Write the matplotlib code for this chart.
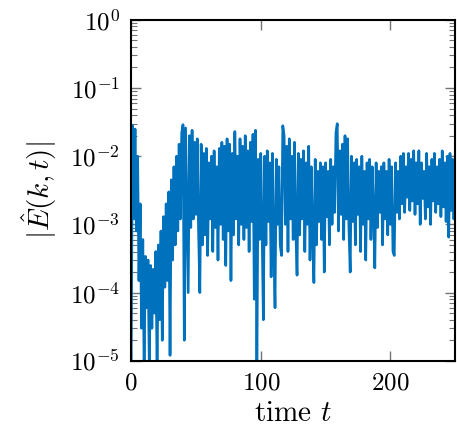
import numpy as np
import matplotlib
matplotlib.use('Agg')
from matplotlib import pyplot as plt
from matplotlib.ticker import LogLocator, NullFormatter

plt.rcParams['font.family'] = 'serif'
plt.rcParams['font.serif'] = ['cmr10']
plt.rcParams['mathtext.fontset'] = 'cm'
plt.rcParams['axes.formatter.use_mathtext'] = True

# |E(k,t)|, one value per time unit
E_0_49 = [8e-6, 2.8e-2, 1.2e-3, 2.5e-2, 8e-4, 1.0e-2, 1.5e-4, 2.0e-3, 3e-5, 6e-4,
          8e-6, 3.4e-4, 6e-5, 3e-4, 8e-6, 2.5e-4, 3e-5, 2.2e-4, 5e-5, 4e-4,
          8e-6, 5e-4, 4e-5, 8e-4, 2e-5, 1.3e-3, 1.2e-4, 2.0e-3, 1.5e-4, 3.0e-3,
          1.2e-5, 4.5e-3, 3e-4, 7e-3, 5e-4, 1.0e-2, 8e-4, 1.5e-2, 1.2e-3, 2.2e-2,
          2.9e-2, 2e-5, 2.6e-2, 1.5e-3, 1.0e-4, 2.0e-2, 9e-4, 2.4e-2, 1.2e-3, 1.6e-2]
E_50_99 = [1.4e-3, 1.8e-2, 8e-4, 1.0e-4, 1.5e-2, 5e-4, 1.1e-2, 7e-4, 1.3e-2, 3.5e-4,
           8e-3, 1.2e-3, 1.0e-2, 4e-4, 1.2e-2, 9e-4, 7e-3, 3e-4, 1.3e-2, 1.0e-3,
           1.6e-2, 6e-4, 1.4e-2, 2.5e-4, 1.8e-2, 8e-4, 1.5e-2, 1.5e-4, 1.1e-2, 7e-4,
           2.3e-2, 1.2e-3, 1.0e-2, 5e-4, 1.8e-2, 1.0e-3, 1.4e-2, 6e-4, 2.0e-2, 9e-4,
           1.2e-2, 4e-4, 1.6e-2, 1.1e-3, 2.1e-2, 8e-5, 2.4e-2, 7e-6, 9e-3, 6e-4]
E_100_149 = [1.1e-2, 9e-4, 4e-5, 1.0e-2, 5e-4, 1.2e-2, 1.1e-3, 8e-3, 1.7e-4, 1.1e-2,
             6e-4, 6e-5, 9e-3, 1.0e-3, 7e-3, 5e-4, 3.5e-4, 2.8e-2, 2.0e-2, 1.0e-3,
             1.4e-2, 4e-4, 1.8e-2, 1.2e-3, 1.0e-2, 6e-4, 1.6e-2, 9e-4, 1.8e-4, 1.1e-2,
             7e-4, 9e-3, 1.2e-3, 1.2e-2, 4e-4, 8e-3, 1.0e-3, 1.4e-2, 3e-4, 7e-3,
             8e-4, 1.4e-4, 9e-3, 5e-4, 6e-3, 1.1e-3, 8e-3, 6e-4, 7e-3, 2.0e-4]
E_150_199 = [8e-3, 1.3e-3, 6e-3, 5e-4, 9e-3, 1.0e-3, 7e-3, 1.5e-3, 2.2e-2, 3.0e-2,
             8e-4, 1.2e-2, 1.4e-3, 1.5e-2, 6e-4, 2.0e-2, 1.2e-3, 1.8e-2, 9e-4, 2e-4,
             1.0e-2, 1.1e-3, 8e-3, 5e-4, 9e-3, 1.4e-3, 7e-3, 4e-4, 1.0e-2, 1.0e-3,
             6e-3, 3e-4, 8e-3, 1.2e-3, 9e-3, 6e-4, 7e-3, 1.5e-3, 2.3e-4, 8e-3,
             9e-4, 6e-3, 1.5e-3, 7e-3, 5e-4, 8e-3, 1.2e-3, 6e-3, 7e-4, 9e-3]
E_200_250 = [1.0e-3, 7e-3, 4e-4, 3.5e-4, 8e-3, 1.5e-3, 6e-3, 1.2e-3, 1.0e-2, 2.0e-3,
             1.1e-2, 1.5e-3, 7e-3, 2.5e-3, 1.1e-2, 1.6e-3, 9e-3, 2.2e-3, 1.2e-2, 1.4e-3,
             8e-3, 2.0e-3, 1.2e-2, 1.0e-3, 8e-3, 2.4e-3, 6e-3, 1.2e-3, 1.1e-2, 1.8e-3,
             7e-3, 1.0e-3, 9e-3, 2.2e-3, 1.1e-2, 1.5e-3, 7e-3, 2.0e-3, 9e-3, 1.3e-3,
             1.2e-2, 1.8e-3, 8e-3, 1.1e-3, 1.0e-2, 6.5e-4, 1.1e-2, 1.6e-3, 9e-3, 1.2e-3,
             6e-3]

E = np.array(E_0_49 + E_50_99 + E_100_149 + E_150_199 + E_200_250)
t = np.arange(len(E))

fig = plt.figure(figsize=(4.57, 4.40), dpi=100)
ax = fig.add_axes([0.287, 0.18, 0.709, 0.775])
ax.semilogy(t, E, color='#0072BD', lw=1.9)

ax.set_xlim(0, 250)
ax.set_ylim(1e-5, 1e0)
ax.set_xticks([0, 100, 200])
ax.yaxis.set_major_locator(LogLocator(base=10, numticks=10))
ax.yaxis.set_minor_locator(LogLocator(base=10, subs=np.arange(2, 10), numticks=10))
ax.yaxis.set_minor_formatter(NullFormatter())

ax.tick_params(which='both', direction='in', top=True, right=True,
               color='0.45', labelsize=18)
ax.tick_params(which='major', length=7, width=1, pad=8)
ax.tick_params(which='minor', length=4, width=0.8)
for s in ax.spines.values():
    s.set_linewidth(1.5)

ax.set_xlabel('time $t$', fontsize=21, labelpad=5)
ax.set_ylabel(r'$|\hat{E}(k,t)|$', fontsize=21, labelpad=8)

fig.savefig('out.png', dpi=100)
